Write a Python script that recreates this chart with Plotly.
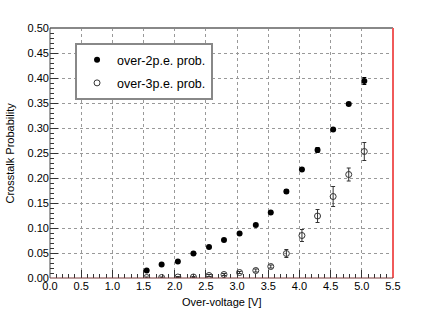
import plotly.graph_objects as go

over_voltage = [1.55, 1.79, 2.05, 2.30, 2.55, 2.79, 3.04, 3.30, 3.54, 3.79, 4.04, 4.29, 4.54, 4.79, 5.04]
p2 = [0.015, 0.027, 0.033, 0.049, 0.062, 0.076, 0.089, 0.106, 0.131, 0.173, 0.217, 0.256, 0.297, 0.348, 0.394]
p2_err = [0.002, 0.002, 0.002, 0.002, 0.002, 0.002, 0.002, 0.002, 0.002, 0.004, 0.003, 0.005, 0.003, 0.003, 0.007]
p3 = [0.001, 0.001, 0.002, 0.002, 0.005, 0.007, 0.011, 0.015, 0.023, 0.049, 0.085, 0.124, 0.163, 0.207, 0.253]
p3_err = [0.001, 0.001, 0.001, 0.001, 0.002, 0.002, 0.002, 0.003, 0.003, 0.008, 0.012, 0.013, 0.020, 0.013, 0.018]

fig = go.Figure()
fig.add_trace(go.Scatter(
    x=over_voltage, y=p2, mode="markers", name="over-2p.e. prob.", legendgroup="a",
    marker=dict(symbol="circle", size=6, color="black"),
    error_y=dict(type="data", array=p2_err, color="black", thickness=1, width=2),
))
fig.add_trace(go.Scatter(
    x=over_voltage, y=p3, mode="markers", name="over-3p.e. prob.", legendgroup="b",
    marker=dict(symbol="circle-open", size=6, color="#333333", line=dict(width=1)),
    error_y=dict(type="data", array=p3_err, color="#333333", thickness=1, width=2),
))

axis_font = dict(family="Liberation Sans, Arial, sans-serif", size=11, color="black")
fig.update_layout(
    width=436, height=314,
    margin=dict(l=50, r=43, t=28, b=36),
    paper_bgcolor="white", plot_bgcolor="white",
    font=axis_font,
    showlegend=True,
    legend=dict(
        x=0.073, y=0.94, xanchor="left", yanchor="top",
        bgcolor="white", bordercolor="#888888", borderwidth=2,
        font=dict(family="Liberation Sans, Arial, sans-serif", size=12.5, color="black"),
        traceorder="grouped", tracegroupgap=4,
    ),
    xaxis=dict(
        range=[0, 5.5], dtick=0.5, tick0=0, tickformat=".1f",
        ticks="inside", ticklen=8, tickcolor="#333333",
        minor=dict(dtick=0.1, ticks="inside", ticklen=4, tickcolor="#333333", showgrid=False),
        showgrid=True, gridcolor="#999999", griddash="dot", gridwidth=1,
        zeroline=False, showline=False, automargin=False,
        tickfont=axis_font,
    ),
    yaxis=dict(
        range=[0, 0.5], dtick=0.05, tick0=0, tickformat=".2f",
        ticks="inside", ticklen=8, tickcolor="#333333",
        minor=dict(dtick=0.01, ticks="inside", ticklen=4, tickcolor="#333333", showgrid=False),
        showgrid=True, gridcolor="#999999", griddash="dot", gridwidth=1,
        zeroline=False, showline=False, automargin=False,
        tickfont=axis_font,
    ),
    annotations=[
        dict(text="Over-voltage [V]", xref="paper", yref="paper", x=0.5, y=-0.096,
             xanchor="center", yanchor="middle", showarrow=False, font=dict(size=11)),
        dict(text="Crosstalk Probability", xref="paper", yref="paper", x=-0.118, y=0.5,
             xanchor="center", yanchor="middle", textangle=-90, showarrow=False, font=dict(size=11)),
    ],
    shapes=[
        dict(type="line", xref="paper", yref="paper", x0=0, x1=1, y0=1, y1=1, line=dict(color="#888888", width=2)),
        dict(type="line", xref="paper", yref="paper", x0=0, x1=0, y0=0, y1=1, line=dict(color="#444444", width=1)),
        dict(type="line", xref="paper", yref="paper", x0=1, x1=1, y0=0, y1=1, line=dict(color="#f05a5a", width=2)),
        dict(type="line", xref="paper", yref="paper", x0=0, x1=1, y0=0, y1=0, line=dict(color="#7a3a3a", width=1)),
    ],
)

fig.write_html("out.html", config={"displayModeBar": False},
               post_script="document.body.style.margin='0';")
